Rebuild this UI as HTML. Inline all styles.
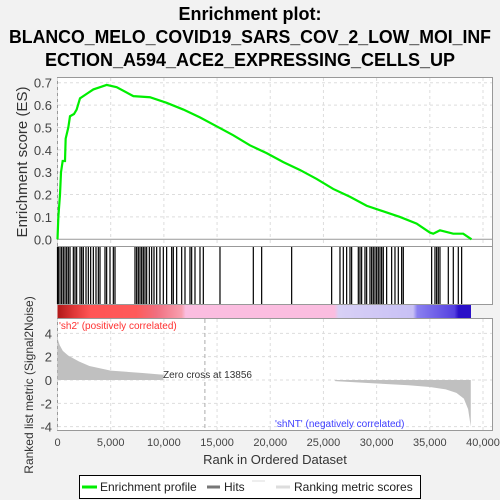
<!DOCTYPE html>
<html><head><meta charset="utf-8"><style>
html,body{margin:0;padding:0;background:#f2f2f2;width:500px;height:500px;overflow:hidden}
svg{display:block;font-family:"Liberation Sans",sans-serif}
</style></head><body>
<svg id="c" width="500" height="500" xmlns="http://www.w3.org/2000/svg">
<g font-weight="bold" font-size="18" text-anchor="middle" fill="#000">
<text x="250" y="20">Enrichment plot:</text>
<text x="250" y="43" textLength="482" lengthAdjust="spacingAndGlyphs">BLANCO_MELO_COVID19_SARS_COV_2_LOW_MOI_INF</text>
<text x="250" y="66" textLength="410" lengthAdjust="spacingAndGlyphs">ECTION_A594_ACE2_EXPRESSING_CELLS_UP</text>
</g>
<rect x="57.5" y="77.5" width="435" height="169" fill="#fff" stroke="#999"/>
<rect x="57.5" y="246.5" width="435" height="58" fill="#fff" stroke="#999"/>
<rect x="57.5" y="318.5" width="435" height="112" fill="#fff" stroke="#999"/>
<g id="grid"></g>
<rect x="57.5" y="305" width="413.5" height="13" fill="url(#cb)"/>
<defs><linearGradient id="cb" x1="0" x2="1">
<stop offset="0" stop-color="#b01818"/><stop offset="0.04" stop-color="#e03838"/><stop offset="0.08" stop-color="#ff5555"/>
<stop offset="0.19" stop-color="#ff5a5a"/><stop offset="0.24" stop-color="#f07080"/><stop offset="0.3" stop-color="#f8a0b0"/>
<stop offset="0.31" stop-color="#fbbde0"/><stop offset="0.67" stop-color="#fbbde0"/><stop offset="0.68" stop-color="#d8d0f5"/>
<stop offset="0.86" stop-color="#c8c0f5"/><stop offset="0.87" stop-color="#8a80f0"/><stop offset="0.96" stop-color="#5540e0"/>
<stop offset="0.97" stop-color="#2a10c8"/><stop offset="1" stop-color="#2a10c8"/></linearGradient></defs>
<g id="hits"></g>
<g id="metric"></g>
<g id="es"></g>
<g id="axes" font-size="13" fill="#444"></g>
<text transform="translate(27,162) rotate(-90)" text-anchor="middle" font-size="15" fill="#333">Enrichment score (ES)</text>
<text transform="translate(33,385) rotate(-90)" text-anchor="middle" font-size="12" fill="#333">Ranked list metric (Signal2Noise)</text>
<text x="275" y="464" text-anchor="middle" font-size="13" fill="#333">Rank in Ordered Dataset</text>
<text x="59" y="329" font-size="10" fill="#ff3030">'sh2' (positively correlated)</text>
<text x="275" y="427" font-size="10" fill="#4040ff">'shNT' (negatively correlated)</text>
<text x="163" y="378" font-size="10" fill="#333">Zero cross at 13856</text>
<g>
<rect x="79.5" y="475.5" width="341" height="23" fill="#fff" stroke="#000"/>
<line x1="82" y1="487" x2="97" y2="487" stroke="#00ee00" stroke-width="3"/>
<text x="100" y="491" font-size="12" fill="#222">Enrichment profile</text>
<line x1="207" y1="487" x2="220" y2="487" stroke="#777" stroke-width="3"/>
<text x="224" y="491" font-size="12" fill="#222">Hits</text>
<line x1="252" y1="481" x2="265" y2="481" stroke="#ddd" stroke-width="1"/>
<line x1="276" y1="487" x2="290" y2="487" stroke="#ddd" stroke-width="3"/>
<text x="294" y="491" font-size="12" fill="#222">Ranking metric scores</text>
</g>
</svg>
<script>
const esRanks=[0,80,235,330,486,705,767,1018,1175,1550,1800,2115,2740,3370,3995,4620,5560,7130,8690,10260,11830,13390,14960,16530,18090,19660,21230,22790,24360,25920,27490,29060,30620,32190,33760,35010,35320,35950,37200,38140,38920];
const esValues=[0,0.1,0.2,0.3,0.35,0.35,0.45,0.5,0.55,0.56,0.58,0.63,0.65,0.67,0.68,0.69,0.68,0.64,0.635,0.61,0.58,0.545,0.505,0.465,0.42,0.385,0.345,0.31,0.27,0.225,0.19,0.15,0.125,0.1,0.07,0.03,0.025,0.04,0.025,0.025,0];
const hitRanks=[0,78,235,390,548,705,862,1018,1175,1488,1645,1800,2115,2272,2428,2680,2898,3117,3370,3619,3838,3995,4465,4620,4935,5248,5405,7285,7442,7598,7755,7912,8068,8225,8382,8633,8852,9071,9322,9635,9948,10260,10732,10888,11202,11672,11985,12455,12612,12925,13395,13708,15275,18408,19192,22012,25772,26555,26868,27182,27495,27652,28278,28435,28592,28905,29062,29375,29532,29688,29845,30002,30158,30315,30472,30628,30942,31412,31725,32038,32352,32508,35172,35485,35642,35798,35955,36738,37208,37678,37992];
const posRanks=[0,60,200,500,1000,2000,3000,5000,8000,9950];
const posMetric=[4.2,3.4,3.0,2.5,2.1,1.6,1.2,0.8,0.6,0.45];
const negRanks=[26100,30000,33000,35000,36500,37500,38200,38600,38850];
const negMetric=[-0.1,-0.3,-0.45,-0.6,-0.8,-1.1,-1.6,-2.5,-4.0];
const xTicks=[0,5000,10000,15000,20000,25000,30000,35000,40000];
const esTicks=[0,0.1,0.2,0.3,0.4,0.5,0.6,0.7];
const mTicks=[-4,-2,0,2,4];
const zeroCross=13856;
const NS='http://www.w3.org/2000/svg';
const X=v=>57.5+v*(483-57.5)/40000;
const YE=v=>239.3-v*(239.3-82.7)/0.7;
const YM=v=>380-v*11.67;
function mk(t,a,p){const e=document.createElementNS(NS,t);for(const k in a)e.setAttribute(k,a[k]);p.appendChild(e);return e;}
const g=document.getElementById('grid'),ax=document.getElementById('axes');
xTicks.forEach(t=>{const x=X(t);
 const l1=mk('line',{x1:x,x2:x,y1:78,y2:246,stroke:'#ddd','stroke-dasharray':'3,3'},g);
 
 
 const l2=mk('line',{x1:x,x2:x,y1:319,y2:430,stroke:'#ddd','stroke-dasharray':'3,3'},g);
 
 
 const tx=mk('text',{x:x,y:446,'text-anchor':'middle','font-size':'11'},ax);tx.textContent=t.toLocaleString('en-US');
 
 });
esTicks.forEach(t=>{const y=YE(t);
 const l=mk('line',{x1:58,x2:492,y1:y,y2:y,stroke:t===0?'#999':'#ddd','stroke-dasharray':t===0?'':'3,3'},g);
 
 
 const tx=mk('text',{x:52,y:y+5,'text-anchor':'end'},ax);tx.textContent=t.toFixed(1);
 
 });
mTicks.forEach(t=>{const y=YM(t);
 const l=mk('line',{x1:58,x2:492,y1:y,y2:y,stroke:'#ddd','stroke-dasharray':'3,3'},g);
 
 
 const tx=mk('text',{x:52,y:y+5,'text-anchor':'end'},ax);tx.textContent=t;
 
 });
const zc=mk('line',{x1:X(zeroCross),x2:X(zeroCross),y1:319,y2:430,stroke:'#aaa','stroke-dasharray':'4,3'},g);


const hg=document.getElementById('hits');
hitRanks.forEach(r=>{const x=X(r);
 const h=mk('line',{x1:x,x2:x,y1:247,y2:304,stroke:'#000','stroke-width':'1.2'},hg);
 
 });
const mg=document.getElementById('metric');
function area(rs,vs,name){let d='M'+X(rs[0])+','+YM(0);rs.forEach((r,i)=>d+='L'+X(r)+','+YM(vs[i]));d+='L'+X(rs[rs.length-1])+','+YM(0)+'Z';
 const p=mk('path',{d:d,fill:'#c0c0c0'},mg);
 
 }
area(posRanks,posMetric,'positive-metric-area');
area(negRanks,negMetric,'negative-metric-area');
const eg=document.getElementById('es');
const pl=mk('polyline',{points:esRanks.map((r,i)=>X(r)+','+YE(esValues[i])).join(' '),fill:'none',stroke:'#00ee00','stroke-width':'2.2'},eg);


</script>
</body></html>
